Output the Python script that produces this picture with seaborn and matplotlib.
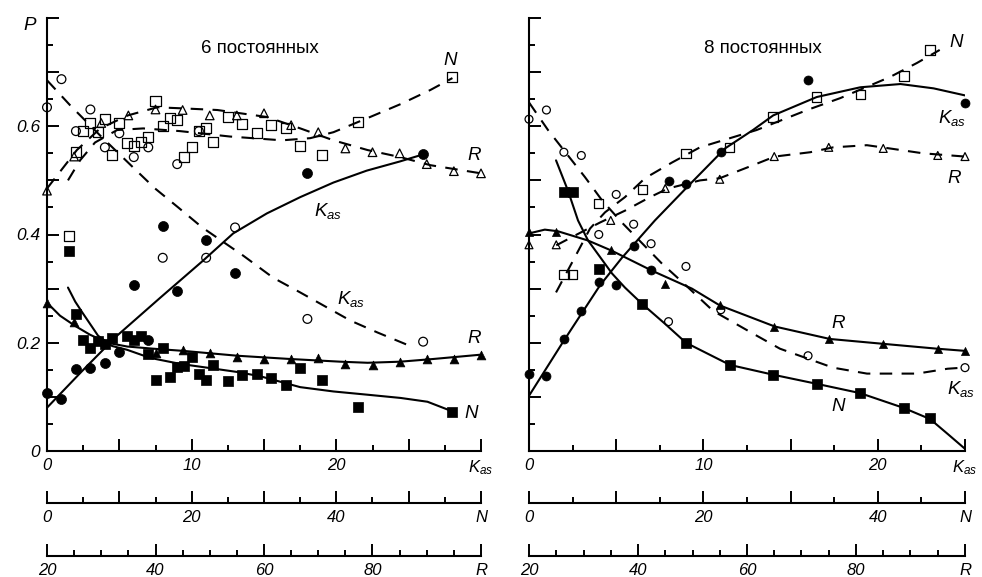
import matplotlib
matplotlib.use("Agg")
import matplotlib.pyplot as plt
from matplotlib import font_manager
from matplotlib.ticker import MultipleLocator
import numpy as np
import seaborn as sns

# ---------- 6 постоянных (left panel) ----------
kas6_x = [0, 1, 2, 3, 4, 5, 6, 7, 8, 9, 11, 13, 18, 26]
kas6_fill = [0.107, 0.096, 0.152, 0.154, 0.163, 0.183, 0.307, 0.206, 0.415, 0.296, 0.389, 0.328, 0.513, 0.548]
kas6_x_open = [0, 1, 2, 3, 4, 5, 6, 7, 8, 9, 10.5, 11, 13, 18, 26]
kas6_open = [0.635, 0.687, 0.591, 0.631, 0.561, 0.587, 0.543, 0.561, 0.357, 0.530, 0.591, 0.357, 0.413, 0.244, 0.202]
kas6_fit_x = [0, 2.4, 4.84, 7.82, 10.8, 12.87, 15.2, 17.5, 19.8, 22.1, 24.4, 26.0]
kas6_fit = [0.080, 0.147, 0.213, 0.283, 0.352, 0.402, 0.439, 0.469, 0.496, 0.518, 0.535, 0.548]
kas6_dash_x = [0, 1.59, 3.67, 5.95, 7.47, 9.07, 10.73, 13.56, 15.64, 17.5, 20.97, 22.84, 25.1]
kas6_dash = [0.685, 0.639, 0.583, 0.524, 0.485, 0.450, 0.413, 0.361, 0.320, 0.293, 0.241, 0.219, 0.194]

n6_x_fill = [3, 4, 5, 6, 7, 8, 9, 11, 12, 13, 14, 15, 16, 17, 18, 19, 20, 21, 22, 23, 25, 27, 29, 31, 33, 35, 38, 43, 56]
n6_fill = [0.370, 0.254, 0.206, 0.191, 0.204, 0.198, 0.209, 0.213, 0.206, 0.213, 0.180, 0.132, 0.191, 0.137, 0.156,
           0.157, 0.174, 0.143, 0.131, 0.159, 0.130, 0.141, 0.143, 0.135, 0.122, 0.154, 0.131, 0.081, 0.072]
n6_x_open = [3, 4, 5, 6, 7, 8, 9, 10, 11, 12, 13, 14, 15, 16, 17, 18, 19, 20, 21, 22, 23, 25, 27, 29, 31, 33, 35, 38, 43, 56]
n6_open = [0.398, 0.552, 0.591, 0.606, 0.589, 0.613, 0.546, 0.606, 0.569, 0.563, 0.570, 0.580, 0.646, 0.600, 0.615,
           0.611, 0.544, 0.561, 0.591, 0.596, 0.570, 0.617, 0.604, 0.587, 0.602, 0.596, 0.563, 0.546, 0.607, 0.691]
n6_fit_x = [2.9, 3.9, 4.98, 7.06, 9.0, 11.07, 14.26, 18.4, 22.1, 26.3, 29.5, 35.0, 39.6, 44.3, 48.9, 52.6, 55.5]
n6_fit = [0.302, 0.276, 0.254, 0.213, 0.194, 0.187, 0.172, 0.161, 0.154, 0.146, 0.138, 0.118, 0.110, 0.104, 0.098, 0.091, 0.076]
n6_dash_x = [2.9, 4.57, 6.64, 9.69, 13.3, 18.4, 25.3, 32.5, 36.4, 39.6, 44.3, 48.9, 53.0, 56.05]
n6_dash = [0.500, 0.537, 0.570, 0.593, 0.596, 0.591, 0.581, 0.574, 0.578, 0.589, 0.615, 0.641, 0.667, 0.689]

r6_x_fill = [20, 25, 40, 45, 50, 55, 60, 65, 70, 75, 80, 85, 90, 95, 100]
r6_fill = [0.274, 0.239, 0.181, 0.187, 0.181, 0.174, 0.170, 0.170, 0.172, 0.161, 0.159, 0.165, 0.170, 0.170, 0.178]
r6_x_open = [20, 25, 30, 35, 40, 45, 50, 55, 60, 65, 70, 75, 80, 85, 90, 95, 100]
r6_open = [0.481, 0.544, 0.606, 0.620, 0.631, 0.630, 0.620, 0.620, 0.624, 0.602, 0.589, 0.559, 0.552, 0.550, 0.530, 0.517, 0.513]
r6_fit_x = [20, 22.4, 25.2, 27.9, 31.1, 34.8, 39.6, 45.1, 55.1, 64.8, 74.1, 79.1, 85.1, 91.2, 100]
r6_fit = [0.274, 0.250, 0.231, 0.215, 0.200, 0.193, 0.189, 0.185, 0.176, 0.170, 0.165, 0.163, 0.165, 0.170, 0.178]
r6_dash_x = [20, 25.5, 29.8, 34.9, 40.3, 45.1, 51.4, 60.6, 66.7, 72.8, 79.1, 85.1, 90.7, 100]
r6_dash = [0.485, 0.556, 0.596, 0.620, 0.635, 0.633, 0.630, 0.617, 0.596, 0.574, 0.556, 0.543, 0.528, 0.513]

# ---------- 8 постоянных (right panel) ----------
kas8_x = [0, 1, 2, 3, 4, 5, 6, 7, 8, 9, 11, 16, 25]
kas8_fill = [0.143, 0.139, 0.207, 0.259, 0.313, 0.307, 0.378, 0.335, 0.498, 0.493, 0.552, 0.685, 0.643]
kas8_open = [0.613, 0.630, 0.552, 0.546, 0.400, 0.474, 0.419, 0.383, 0.239, 0.341, 0.261, 0.176, 0.154]
kas8_fit_x = [0, 2.0, 4.07, 5.33, 7.22, 9.2, 11.24, 12.84, 14.0, 16.5, 19.0, 21.3, 23.2, 25.0]
kas8_fit = [0.102, 0.204, 0.306, 0.357, 0.426, 0.492, 0.559, 0.593, 0.620, 0.654, 0.672, 0.678, 0.670, 0.657]
kas8_dash_x = [0, 1.09, 3.21, 4.19, 5.33, 7.63, 8.83, 10.55, 12.84, 14.39, 17.43, 19.38, 22.25, 24.0, 24.9]
kas8_dash = [0.644, 0.593, 0.506, 0.463, 0.422, 0.346, 0.311, 0.259, 0.217, 0.189, 0.154, 0.143, 0.143, 0.152, 0.154]

n8_x = [4, 5, 8, 13, 18, 23, 28, 33, 38, 43, 46]
n8_fill = [0.478, 0.478, 0.337, 0.272, 0.200, 0.159, 0.141, 0.124, 0.107, 0.080, 0.061]
n8_open = [0.326, 0.326, 0.457, 0.483, 0.550, 0.561, 0.617, 0.654, 0.659, 0.693, 0.741]
n8_fit_x = [3.1, 4.47, 5.62, 6.77, 9.52, 11.0, 12.96, 15.6, 18.0, 23.05, 27.98, 33.03, 37.96, 42.9, 46.0, 48.05, 50.0]
n8_fit = [0.537, 0.481, 0.426, 0.389, 0.328, 0.302, 0.272, 0.235, 0.200, 0.159, 0.141, 0.124, 0.107, 0.080, 0.059, 0.031, 0.004]
n8_dash_x = [3.1, 4.93, 7.0, 8.72, 11.0, 13.3, 16.4, 19.6, 26.1, 31.9, 35.7, 41.4, 44.5, 47.1]
n8_dash = [0.293, 0.348, 0.411, 0.441, 0.469, 0.504, 0.533, 0.561, 0.593, 0.630, 0.652, 0.691, 0.717, 0.741]

r8_x = [20, 25, 35, 45, 55, 65, 75, 85, 95, 100]
r8_fill = [0.404, 0.404, 0.372, 0.309, 0.270, 0.230, 0.207, 0.198, 0.189, 0.185]
r8_open = [0.381, 0.381, 0.426, 0.485, 0.502, 0.544, 0.561, 0.559, 0.546, 0.544]
r8_fit_x = [20, 22.9, 25.3, 30.8, 35.2, 42.6, 49.9, 55.0, 65.1, 75.2, 85.0, 94.9, 100]
r8_fit = [0.402, 0.409, 0.406, 0.389, 0.370, 0.333, 0.300, 0.269, 0.230, 0.207, 0.198, 0.189, 0.185]
r8_dash_x = [25, 28.4, 33.0, 37.6, 42.2, 45.5, 51.4, 55.0, 61.1, 65.1, 71.6, 75.8, 82.0, 86.2, 92.3, 100]
r8_dash = [0.380, 0.398, 0.422, 0.444, 0.469, 0.485, 0.500, 0.504, 0.528, 0.544, 0.552, 0.561, 0.565, 0.559, 0.550, 0.544]

KAS = "$K_{as}$"

sns.set_theme(style="ticks")


def has_italic(name):
    return any(f.name == name and f.style in ("italic", "oblique") for f in font_manager.fontManager.ttflist)


ital = next(n for n in ["Liberation Sans", "Roboto", "Open Sans", "Lato", "Noto Sans", "DejaVu Sans"]
            if has_italic(n))
narrow = "Liberation Sans Narrow" if has_italic("Liberation Sans Narrow") else ital

plt.rcParams["font.family"] = ["Liberation Sans", "DejaVu Sans"]
plt.rcParams["mathtext.fontset"] = "custom"
plt.rcParams["mathtext.it"] = ital + ":italic"
plt.rcParams["mathtext.rm"] = ital
plt.rcParams["axes.edgecolor"] = "black"
plt.rcParams["xtick.color"] = "black"
plt.rcParams["ytick.color"] = "black"

tick_font = dict(fontstyle="italic", family=narrow, fontsize=12)


def curve(ax, x, p, dashed):
    ls = (0, (6, 4.5)) if dashed else "-"
    sns.lineplot(x=np.asarray(x), y=p, ax=ax, color="black", lw=1.5, linestyle=ls,
                 sort=False, estimator=None, zorder=2)


def points(ax, x, p, marker, filled, s):
    sns.scatterplot(x=np.asarray(x), y=p, ax=ax, marker=marker, s=s,
                    facecolor="black" if filled else "none", edgecolor="black",
                    linewidth=0.5 if filled else 0.9, zorder=3, clip_on=False)


def style_axes(ax, kmax, nmax, rscale, show_y):
    ax.set_xlim(0, kmax)
    ax.set_ylim(0, 0.8)
    sns.despine(ax=ax)
    for sp in ax.spines.values():
        sp.set_linewidth(1.5)
    kticks = list(range(0, kmax + 1, 5))
    klabels = [str(k) if k % 10 == 0 else "" for k in kticks]
    klabels[-1] = KAS
    ax.set_xticks(kticks, klabels, **tick_font)
    ax.xaxis.set_minor_locator(MultipleLocator(2.5))
    yt = [round(0.1 * i, 1) for i in range(9)]
    ylab = ["0", "", "0.2", "", "0.4", "", "0.6", "", ""]
    ax.set_yticks(yt, ylab if show_y else [""] * 9, fontstyle="italic", family=ital, fontsize=12.5)
    ax.yaxis.set_minor_locator(MultipleLocator(0.05))
    ax.tick_params(which="both", direction="in", width=1.4, pad=5)
    ax.tick_params(which="major", length=8.5)
    ax.tick_params(which="minor", length=4.5)
    ax.set_xlabel("")
    ax.set_ylabel("")

    # extra N and R scales below the Kas axis
    nsec = ax.secondary_xaxis(-0.12, functions=(lambda k: 2 * k, lambda n: n / 2))
    nticks = list(range(0, nmax + 1, 10))
    nlabels = [str(n) if n % 20 == 0 else "" for n in nticks]
    nlabels[-1] = "N"
    nsec.set_xticks(nticks, nlabels, **tick_font)
    nsec.xaxis.set_minor_locator(MultipleLocator(5))

    rsec = ax.secondary_xaxis(-0.2425, functions=(lambda k: 20 + k * rscale, lambda r: (r - 20) / rscale))
    rsec.set_xticks([20, 40, 60, 80, 100], ["20", "40", "60", "80", "R"], **tick_font)
    rsec.xaxis.set_minor_locator(MultipleLocator(5))
    for sec in (nsec, rsec):
        sec.spines["bottom"].set_linewidth(1.5)
        sec.tick_params(which="both", direction="in", width=1.4, pad=5)
        sec.tick_params(which="major", length=8.5)
        sec.tick_params(which="minor", length=4.5)


fig = plt.figure(figsize=(9.82, 5.77), dpi=100)
ax1 = fig.add_axes([47 / 982, 1 - 451 / 577, 434 / 982, 433 / 577])
ax2 = fig.add_axes([529 / 982, 1 - 451 / 577, 436 / 982, 433 / 577])

# left panel: N -> Kas is N/2, R -> Kas is (R-20)*30/80
n2k = lambda v: np.asarray(v) / 2
r2k6 = lambda v: (np.asarray(v) - 20) * 30 / 80
curve(ax1, kas6_fit_x, kas6_fit, False)
curve(ax1, kas6_dash_x, kas6_dash, True)
curve(ax1, n2k(n6_fit_x), n6_fit, False)
curve(ax1, n2k(n6_dash_x), n6_dash, True)
curve(ax1, r2k6(r6_fit_x), r6_fit, False)
curve(ax1, r2k6(r6_dash_x), r6_dash, True)
points(ax1, kas6_x, kas6_fill, "o", True, 52)
points(ax1, kas6_x_open, kas6_open, "o", False, 40)
points(ax1, n2k(n6_x_fill), n6_fill, "s", True, 52)
points(ax1, n2k(n6_x_open), n6_open, "s", False, 52)
points(ax1, r2k6(r6_x_fill), r6_fill, "^", True, 40)
points(ax1, r2k6(r6_x_open), r6_open, "^", False, 38)
style_axes(ax1, 30, 60, 80 / 30, True)

# right panel: N -> Kas is N/2, R -> Kas is (R-20)*25/80
r2k8 = lambda v: (np.asarray(v) - 20) * 25 / 80
curve(ax2, kas8_fit_x, kas8_fit, False)
curve(ax2, kas8_dash_x, kas8_dash, True)
curve(ax2, n2k(n8_fit_x), n8_fit, False)
curve(ax2, n2k(n8_dash_x), n8_dash, True)
curve(ax2, r2k8(r8_fit_x), r8_fit, False)
curve(ax2, r2k8(r8_dash_x), r8_dash, True)
points(ax2, kas8_x, kas8_fill, "o", True, 42)
points(ax2, kas8_x, kas8_open, "o", False, 32)
points(ax2, n2k(n8_x), n8_fill, "s", True, 46)
points(ax2, n2k(n8_x), n8_open, "s", False, 46)
points(ax2, r2k8(r8_x), r8_fill, "^", True, 34)
points(ax2, r2k8(r8_x), r8_open, "^", False, 32)
style_axes(ax2, 25, 50, 80 / 25, False)

lab = dict(fontsize=13.5, fontstyle="italic", family=ital, ha="center", va="center", color="black")
ttl = dict(fontsize=13.5, family="Liberation Sans", ha="center", va="center", color="black")
ax1.text(-0.041, 0.787, "P", transform=ax1.get_yaxis_transform(), **lab)
ax1.text(14.7, 0.744, "6 постоянных", **ttl)
ax1.text(27.9, 0.722, "N", **lab)
ax1.text(29.5, 0.546, "R", **lab)
ax1.text(19.4, 0.444, KAS, **lab)
ax1.text(21.0, 0.281, KAS, **lab)
ax1.text(29.5, 0.207, "R", **lab)
ax1.text(29.3, 0.070, "N", **lab)

ax2.text(13.4, 0.744, "8 постоянных", **ttl)
ax2.text(24.5, 0.754, "N", **lab)
ax2.text(24.25, 0.615, KAS, **lab)
ax2.text(24.4, 0.504, "R", **lab)
ax2.text(17.7, 0.235, "R", **lab)
ax2.text(24.8, 0.115, KAS, **lab)
ax2.text(17.7, 0.083, "N", **lab)

fig.savefig("out.png", dpi=100)
